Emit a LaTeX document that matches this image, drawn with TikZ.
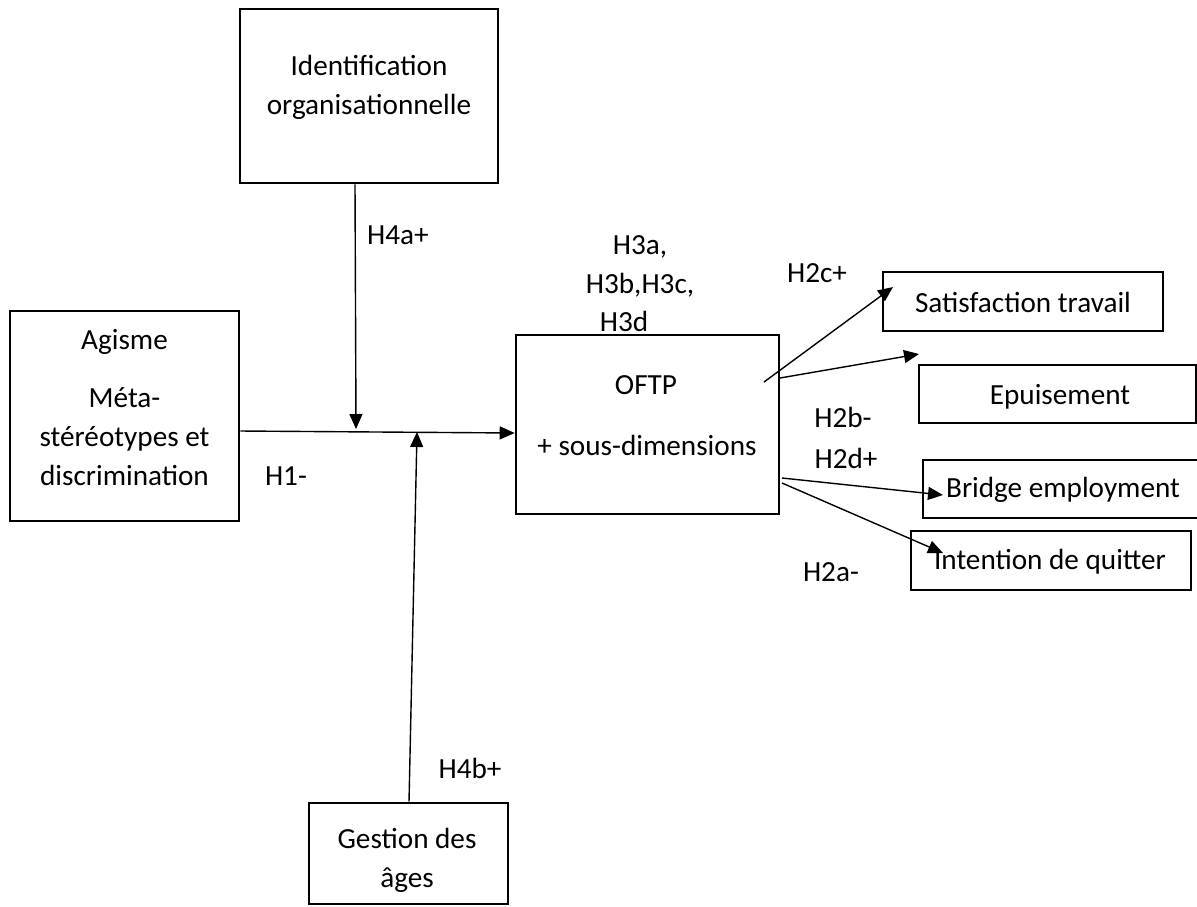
\documentclass[tikz,border=0pt]{standalone}
\usepackage{fontspec}
\setmainfont{Carlito}
\usetikzlibrary{arrows.meta,calc}
\begin{document}
\begin{tikzpicture}[x=0.5pt,y=-0.5pt,
  box/.style 2 args={draw,line width=1.3pt,inner sep=0pt,
    minimum width=#1*0.5pt,minimum height=#2*0.5pt},
  lbl/.style={font=\fontsize{14.6}{19.5}\selectfont,inner sep=0pt,align=center},
  arr/.style={line width=0.7pt,-{Triangle[length=7.5pt,width=6.5pt]}}]
\useasboundingbox (0,0) rectangle (1197,906);

% boxes
\node[box={258}{174}] (ident) at (369,96) {};
\node[box={229}{210}] (agisme) at (124.5,416) {};
\node[box={263}{179}] (oftp) at (647.5,424.5) {};
\node[box={199}{101}] (gestion) at (408.5,853.5) {};
\node[box={280}{59}] (sat) at (1023,301.5) {};
\node[box={277}{58}] (epu) at (1057.5,394) {};
\node[box={277}{58}] (bridge) at (1061.5,489) {};
\node[box={280}{59}] (inten) at (1051,560.5) {};

% box texts
\node[lbl] (identT) at (369,87) {Identification\\organisationnelle};
\node[lbl] (agismeT) at (124.5,342) {Agisme};
\node[lbl] (metaT) at (124.5,437) {Méta-\\stéréotypes et\\discrimination};
\node[lbl] (oftpT) at (646,385) {OFTP};
\node[lbl] (sousT) at (647,445) {+ sous-dimensions};
\node[lbl] (gestionT) at (407,860) {Gestion des\\âges};
\node[lbl] (satT) at (1023,302) {Satisfaction travail};
\node[lbl] (epuT) at (1060,397) {Epuisement};
\node[lbl] (bridgeT) at (1063,490) {Bridge employment};
\node[lbl] (intenT) at (1050,562) {Intention de quitter};

% hypothesis labels
\node[lbl] (h4a) at (398,235) {H4a+};
\node[lbl] (h1) at (286,476) {H1-};
\node[lbl] (h3a) at (640,247) {H3a,};
\node[lbl] (h3b) at (640,285) {H3b,H3c,};
\node[lbl] (h3d) at (624,321) {H3d};
\node[lbl] (h2c) at (817,273) {H2c+};
\node[lbl] (h2b) at (843,417) {H2b-};
\node[lbl] (h2d) at (846,458) {H2d+};
\node[lbl] (h2a) at (831,572) {H2a-};
\node[lbl] (h4b) at (470,768) {H4b+};

% connector end points
\coordinate (mainS) at (agisme.east |- 0,431);
\coordinate (mainE) at (oftp.west |- 0,433);
\coordinate (modA) at (356,429);
\coordinate (modB) at (417,432);
\coordinate (satS) at (764,382);
\coordinate (satE) at (893,287);
\coordinate (epuS) at (780,378);
\coordinate (epuE) at (919,354);
\coordinate (briS) at (782,478);
\coordinate (briE) at (943,495);
\coordinate (intS) at (782,483);
\coordinate (intE) at (943,553);

% connectors
\draw[arr] (mainS) -- (mainE);
\draw[arr] (ident.south -| 355,0) -- (modA);
\draw[arr] (gestion.north -| 409,0) -- (modB);
\draw[arr] (satS) -- (satE);
\draw[arr] (epuS) -- (epuE);
\draw[arr] (briS) -- (briE);
\draw[arr] (intS) -- (intE);
\end{tikzpicture}
\end{document}
